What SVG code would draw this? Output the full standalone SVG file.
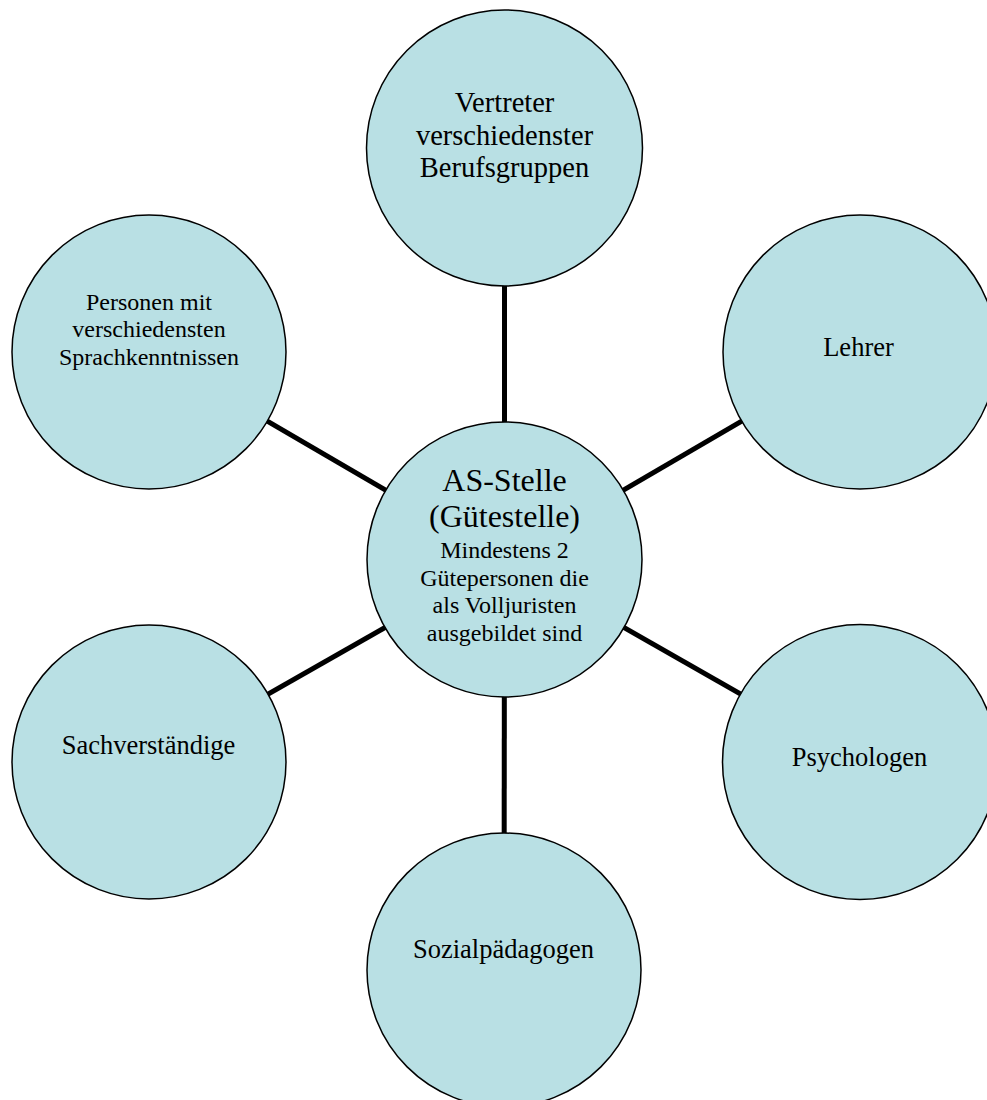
<svg xmlns="http://www.w3.org/2000/svg" width="987" height="1100" viewBox="0 0 987 1100">
<style>
.node{fill:#b9e0e4;stroke:#000;stroke-width:1.5}
.conn{stroke:#000;stroke-width:5;fill:none}
text{font-family:"Liberation Serif","Times New Roman",serif;fill:#000;text-anchor:middle}
.s24{font-size:24px}
.s26{font-size:26.5px}
.s28{font-size:28.5px}
.s32{font-size:32px}
</style>
<rect width="987" height="1100" fill="#fff"/>
<g id="connectors">
<line class="conn" x1="504.5" y1="559.5" x2="504.5" y2="148"/>
<line class="conn" x1="504.5" y1="559.5" x2="504" y2="970"/>
<line class="conn" x1="504.5" y1="559.5" x2="149" y2="352"/>
<line class="conn" x1="504.5" y1="559.5" x2="860" y2="352"/>
<line class="conn" x1="504.5" y1="559.5" x2="149" y2="762"/>
<line class="conn" x1="504.5" y1="559.5" x2="860" y2="762"/>
</g>
<g id="node-top">
<circle class="node" cx="504.5" cy="148" r="138"/>
<text class="s28" x="504.5" y="112">Vertreter</text>
<text class="s28" x="504.5" y="144.5">verschiedenster</text>
<text class="s28" x="504.5" y="177">Berufsgruppen</text>
</g>
<g id="node-lefttop">
<circle class="node" cx="149" cy="352" r="137"/>
<text class="s24" x="149" y="309.5">Personen mit</text>
<text class="s24" x="149" y="337">verschiedensten</text>
<text class="s24" x="149" y="364.5">Sprachkenntnissen</text>
</g>
<g id="node-righttop">
<circle class="node" cx="860" cy="352" r="137"/>
<text class="s26" x="858.5" y="356">Lehrer</text>
</g>
<g id="node-center">
<circle class="node" cx="504.5" cy="559.5" r="137.5"/>
<text class="s32" x="504.5" y="491">AS-Stelle</text>
<text class="s32" x="504.5" y="527">(Gütestelle)</text>
<text class="s24" x="504.5" y="558">Mindestens 2</text>
<text class="s24" x="504.5" y="585.5">Gütepersonen die</text>
<text class="s24" x="504.5" y="613">als Volljuristen</text>
<text class="s24" x="504.5" y="641">ausgebildet sind</text>
</g>
<g id="node-leftbottom">
<circle class="node" cx="149" cy="762" r="137"/>
<text class="s26" x="148.5" y="754">Sachverständige</text>
</g>
<g id="node-rightbottom">
<circle class="node" cx="860" cy="762" r="137.5"/>
<text class="s26" x="859.5" y="766">Psychologen</text>
</g>
<g id="node-bottom">
<circle class="node" cx="504" cy="970" r="137"/>
<text class="s26" x="503.5" y="958">Sozialpädagogen</text>
</g>
</svg>
